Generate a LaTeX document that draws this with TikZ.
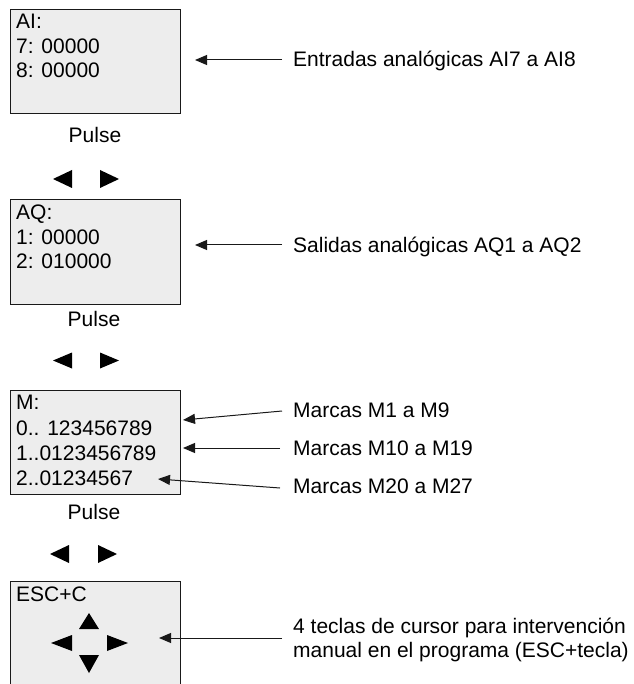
\documentclass[tikz,border=0pt]{standalone}
\usepackage{fontspec}
\setmainfont{Liberation Sans}
\usetikzlibrary{arrows.meta}
\tikzset{
  lcd/.style={draw=black!90, line width=1pt, fill=black!7, anchor=north west,
    minimum width=170pt, minimum height=104pt, inner sep=0pt},
  lcdtxt/.style={anchor=base west, inner sep=0pt, text=black},
  lbl/.style={anchor=base west, inner sep=0pt, text=black},
  pulsetxt/.style={anchor=base, inner sep=0pt, text=black},
  arr/.style={draw=black!90, line width=1pt, -{Triangle[length=12pt,width=10pt]}},
  tri/.style={fill=black, draw=none}
}
\begin{document}
\begin{tikzpicture}[x=1pt,y=-1pt,font=\fontsize{21}{25}\selectfont]
\useasboundingbox (0,0) rectangle (633,684);
\clip (0,0) rectangle (633,684);

% ---------- Box 1 ----------
\node[lcd] (b1) at (10,9) {};
\node[lcdtxt] (b1l1) at (16,28.5) {AI:};
\node[lcdtxt] (b1l2) at (16,53.5) {7: 00000};
\node[lcdtxt] (b1l3) at (16,78) {8: 00000};
\node[pulsetxt] (p1) at (95,143) {Pulse};
\fill[tri] (53,179) -- (72,170) -- (72,188) -- cycle;
\fill[tri] (119,179) -- (100,170) -- (100,188) -- cycle;
\node[lbl] (e1) at (293,67) {Entradas analógicas AI7 a AI8};
\coordinate (t1) at (282,60);
\coordinate (h1) at (195,60);
\draw[arr] (t1) -- (h1);

% ---------- Box 2 ----------
\node[lcd, minimum height=105pt] (b2) at (10,199) {};
\node[lcdtxt] (b2l1) at (16,220) {AQ:};
\node[lcdtxt] (b2l2) at (16,245) {1: 00000};
\node[lcdtxt] (b2l3) at (16,269) {2: 010000};
\node[pulsetxt] (p2) at (94,326) {Pulse};
\fill[tri] (53,360.5) -- (72,352.5) -- (72,368.5) -- cycle;
\fill[tri] (119,360.5) -- (100,352.5) -- (100,368.5) -- cycle;
\node[lbl] (e2) at (293,252) {Salidas analógicas AQ1 a AQ2};
\coordinate (t2) at (282,245);
\coordinate (h2) at (195,245);
\draw[arr] (t2) -- (h2);

% ---------- Box 3 ----------
\node[lcd] (b3) at (10,390) {};
\node[lcdtxt] (b3l1) at (16,409) {M:};
\node[lcdtxt] (b3l2) at (16,435) {0.. 123456789};
\node[lcdtxt] (b3l3) at (16,460) {1..0123456789};
\node[lcdtxt] (b3l4) at (16,485) {2..01234567};
\node[pulsetxt] (p3) at (94,519) {Pulse};
\fill[tri] (50,554) -- (69,545) -- (69,563) -- cycle;
\fill[tri] (117,554) -- (98,545) -- (98,563) -- cycle;
\node[lbl] (m1) at (293,417) {Marcas M1 a M9};
\node[lbl] (m2) at (293,455) {Marcas M10 a M19};
\node[lbl] (m3) at (293,493) {Marcas M20 a M27};
\coordinate (t3a) at (282,411);
\coordinate (h3a) at (183,420);
\coordinate (t3b) at (280,448);
\coordinate (h3b) at (183,448);
\coordinate (t3c) at (280,488);
\coordinate (h3c) at (158,479);
\draw[arr] (t3a) -- (h3a);
\draw[arr] (t3b) -- (h3b);
\draw[arr] (t3c) -- (h3c);

% ---------- Box 4 ----------
\node[lcd, minimum height=120pt] (b4) at (10,581) {};
\node[lcdtxt] (b4l1) at (16,601) {ESC+C};
\fill[tri] (89,613) -- (99,629) -- (79,629) -- cycle;
\fill[tri] (89,673) -- (99,655) -- (79,655) -- cycle;
\fill[tri] (51,643) -- (72,635) -- (72,651) -- cycle;
\fill[tri] (128,643) -- (107,635) -- (107,651) -- cycle;
\node[lbl] (k1) at (293,633) {4 teclas de cursor para intervención};
\node[lbl] (k2) at (293,657) {manual en el programa (ESC+tecla)};
\coordinate (t4) at (282,638);
\coordinate (h4) at (159,638);
\draw[arr] (t4) -- (h4);
\end{tikzpicture}
\end{document}
